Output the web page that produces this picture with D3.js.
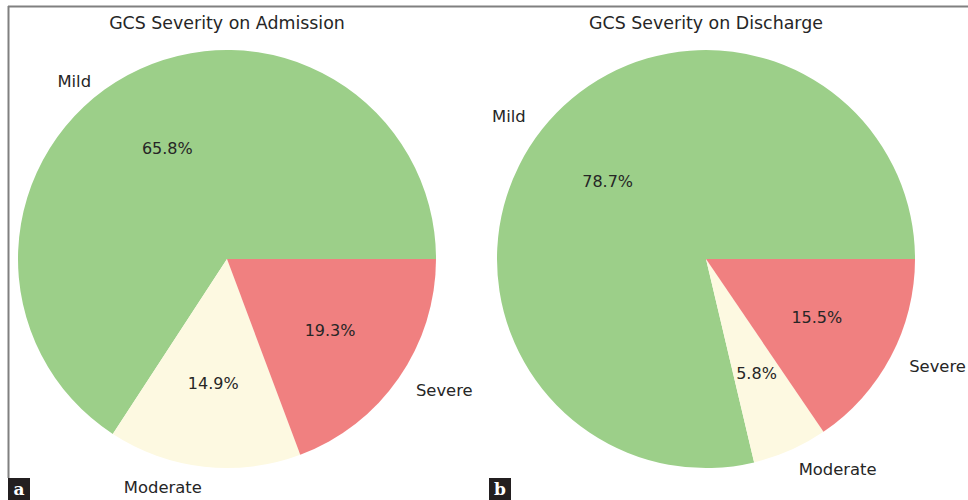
<!DOCTYPE html>
<html>
<head>
<meta charset="utf-8">
<script src="https://cdn.jsdelivr.net/npm/d3@7"></script>
<style>
  html, body { margin: 0; padding: 0; background: #fff; }
  svg { display: block; }
  text { font-family: "DejaVu Sans", sans-serif; fill: #262626; }
</style>
</head>
<body>
<svg id="chart" width="968" height="500"></svg>
<script>
const categories = ["Mild", "Moderate", "Severe"];
const admissionValues = [65.8, 14.9, 19.3];
const dischargeValues = [78.7, 5.8, 15.5];
const titles = ["GCS Severity on Admission", "GCS Severity on Discharge"];
const panelLetters = ["a", "b"];
const colors = ["#9ccf89", "#fdf9e1", "#f08080"];

const svg = d3.select("#chart");
const W = 968, H = 500;

// frame
svg.append("line").attr("x1", 8).attr("x2", W).attr("y1", 6.5).attr("y2", 6.5)
  .attr("stroke", "#808080").attr("stroke-width", 2);
svg.append("line").attr("x1", 8.5).attr("x2", 8.5).attr("y1", 6).attr("y2", 478)
  .attr("stroke", "#808080").attr("stroke-width", 2);

const color = d3.scaleOrdinal().domain(categories).range(colors);
const R = 209;
const panels = [
  { cx: 227, cy: 259, values: admissionValues, title: titles[0], letter: panelLetters[0], lx: 8, labelAngleShift: { Mild: 9 * Math.PI / 180 }, labelDist: { Mild: 1.07 } },
  { cx: 706, cy: 259, values: dischargeValues, title: titles[1], letter: panelLetters[1], lx: 489, labelAngleShift: {}, labelDist: {} }
];

// matplotlib-style: start at 3 o'clock, counter-clockwise
const pie = d3.pie().sort(null).value(d => d.v)
  .startAngle(Math.PI / 2).endAngle(Math.PI / 2 - 2 * Math.PI);
const arc = d3.arc().innerRadius(0).outerRadius(R);

panels.forEach(p => {
  const data = categories.map((c, i) => ({ c, v: p.values[i] }));
  const total = d3.sum(p.values);
  const g = svg.append("g").attr("transform", `translate(${p.cx},${p.cy})`);
  const arcs = pie(data);
  g.selectAll("path").data(arcs).join("path")
    .attr("d", arc).attr("fill", d => color(d.data.c));

  // percentage labels at 0.6 R
  g.selectAll("text.pct").data(arcs).join("text").attr("class", "pct")
    .attr("x", d => 0.6 * R * Math.sin((d.startAngle + d.endAngle) / 2))
    .attr("y", d => -0.6 * R * Math.cos((d.startAngle + d.endAngle) / 2))
    .attr("text-anchor", "middle").attr("dominant-baseline", "central")
    .style("font-size", "16px")
    .text(d => (100 * d.data.v / total).toFixed(1) + "%");

  // category labels at 1.1 R
  g.selectAll("text.lab").data(arcs).join("text").attr("class", "lab")
    .each(function(d) {
      const a = (d.startAngle + d.endAngle) / 2 - (p.labelAngleShift[d.data.c] || 0);
      const k = (p.labelDist[d.data.c] || 1.1) * R;
      const x = k * Math.sin(a), y = -k * Math.cos(a);
      d3.select(this).attr("x", x).attr("y", y)
        .attr("text-anchor", x < 0 ? "end" : "start");
    })
    .attr("dominant-baseline", "central")
    .style("font-size", "16.4px")
    .text(d => d.data.c);

  svg.append("text").attr("x", p.cx).attr("y", 23)
    .attr("text-anchor", "middle").attr("dominant-baseline", "central")
    .style("font-size", "17.4px").text(p.title);

  svg.append("rect").attr("x", p.lx).attr("y", 478).attr("width", 22).attr("height", 22)
    .attr("fill", "#231f20");
  svg.append("text").attr("x", p.lx + 11).attr("y", 489)
    .attr("text-anchor", "middle").attr("dominant-baseline", "central")
    .style("font-family", "'DejaVu Serif', serif").style("font-weight", "bold")
    .style("font-size", "17px").style("fill", "#fff").text(p.letter);
});
</script>
</body>
</html>
